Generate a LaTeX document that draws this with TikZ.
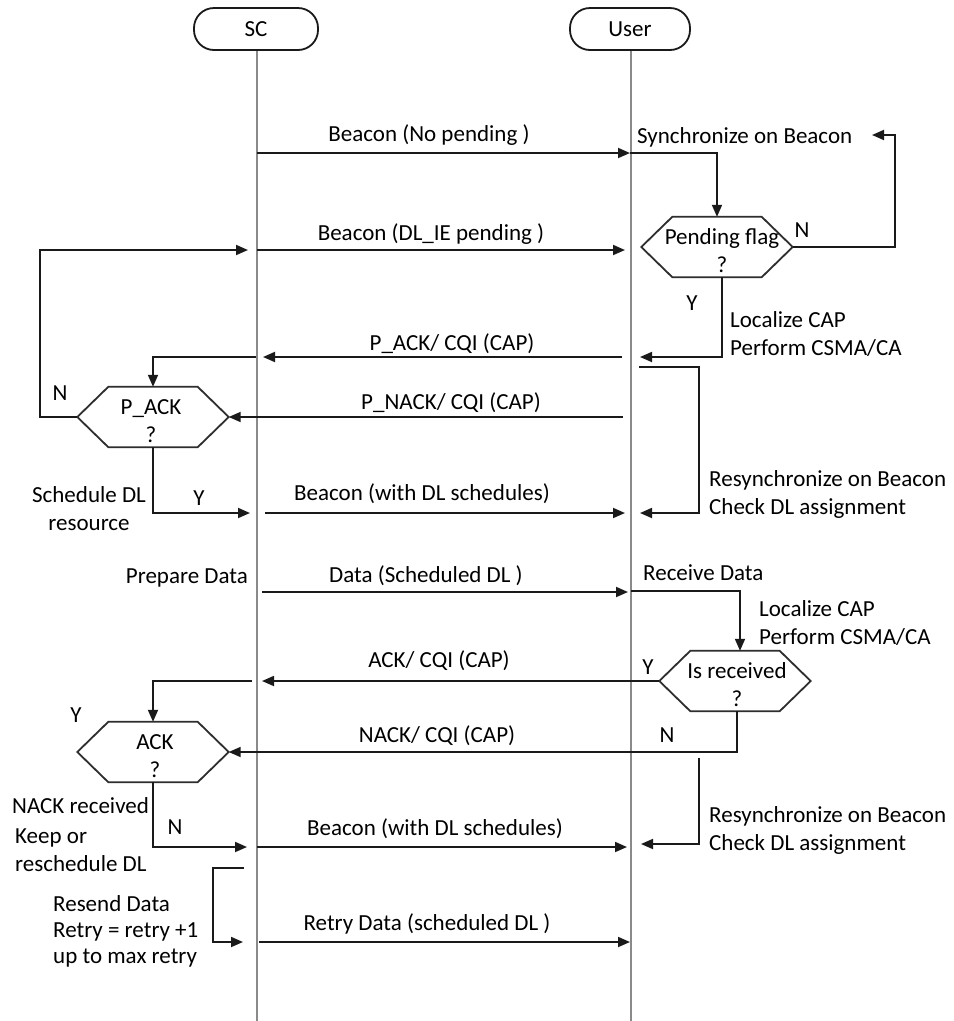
\documentclass[tikz,border=0pt]{standalone}
\usepackage{fontspec}
\setmainfont{Carlito}
\usetikzlibrary{arrows.meta,calc}
\definecolor{ink}{HTML}{1A1A1A}
\definecolor{lifec}{HTML}{8A8A8A}
\definecolor{hexc}{HTML}{2E2E2E}
\newcommand\drawhex[1]{\draw[hexline] (#1.west) -- ([xshift=31pt]#1.north west) -- ([xshift=-31pt]#1.north east) -- (#1.east) -- ([xshift=-31pt]#1.south east) -- ([xshift=31pt]#1.south west) -- cycle;}
\begin{document}
\begin{tikzpicture}[x=1pt,y=-1pt, font=\fontsize{23}{28}\selectfont,
  msg/.style={draw=ink, line width=1.8pt, -{Triangle[length=12pt,width=10pt]}},
  lifeline/.style={draw=lifec, line width=1.5pt},
  actor/.style={draw=ink, line width=1.8pt, rounded corners=20pt, minimum width=124pt, minimum height=42pt, inner sep=0pt},
  hexa/.style={minimum width=151pt, minimum height=60pt, inner sep=0pt},
  hexline/.style={draw=hexc, line width=1.8pt, line join=miter},
  hextext/.style={align=center, inner sep=0pt},
  lbl/.style={inner sep=0pt, anchor=base},
  lblw/.style={inner sep=0pt, anchor=base west},
  lble/.style={inner sep=0pt, anchor=base east}]

\useasboundingbox[fill=white] (0,0) rectangle (954,1021);

% actors and lifelines
\node[actor] (sc) at (256,29) {SC};
\node[actor, minimum width=120pt] (user) at (630,29) {User};
\coordinate (scend) at (257,1021);
\coordinate (userend) at (631,1021);
\draw[lifeline] (sc.south -| scend) -- (scend);
\draw[lifeline] (user.south -| userend) -- (userend);

% decision hexagons
\node[hexa] (pend) at (717,247) {};
\node[hexa] (pack) at (153,417) {};
\node[hexa] (isr) at (735,681) {};
\node[hexa] (ack) at (153,752) {};
\drawhex{pend}
\drawhex{pack}
\drawhex{isr}
\drawhex{ack}
\node[hextext] (pendt) at ([xshift=5pt,yshift=-4pt]pend.center) {Pending flag\\?};
\node[hextext] (packt) at ([xshift=-2pt,yshift=-4pt]pack.center) {P\_ACK\\?};
\node[hextext] (isrt) at ([xshift=2pt,yshift=-4pt]isr.center) {Is received\\?};
\node[hextext] (ackt) at ([xshift=2pt,yshift=-4pt]ack.center) {ACK\\?};

% message end points
\coordinate (m1s) at (257,153);  \coordinate (m1e) at (630,153);
\coordinate (m2s) at (257,250);  \coordinate (m2e) at (625,250);
\coordinate (m3s) at (622,357);  \coordinate (m3e) at (263,357);
\coordinate (m4s) at (623,417);
\coordinate (m5s) at (265,513);  \coordinate (m5e) at (625,513);
\coordinate (m6s) at (262,592);  \coordinate (m6e) at (628,592);
\coordinate (m7e) at (262,681);
\coordinate (m9s) at (257,847);  \coordinate (m9e) at (627,847);
\coordinate (m10s) at (259,942); \coordinate (m10e) at (630,942);

% messages
\draw[msg] (m1s) -- (m1e);
\draw[msg] (m2s) -- (m2e);
\draw[msg] (m3s) -- (m3e);
\draw[msg] (m4s) -- (pack.east);
\draw[msg] (m5s) -- (m5e);
\draw[msg] (m6s) -- (m6e);
\draw[msg] (isr.west) -- (m7e);
\draw[msg] ([xshift=2pt]isr.south) |- (ack.east);
\draw[msg] (m9s) -- (m9e);
\draw[msg] (m10s) -- (m10e);

% message labels
\node[lbl] (l1) at (429,141) {Beacon (No pending )};
\node[lbl] (l2) at (431,240) {Beacon (DL\_IE pending )};
\node[lbl] (l3) at (452,350) {P\_ACK/ CQI (CAP)};
\node[lbl] (l4) at (451,409) {P\_NACK/ CQI (CAP)};
\node[lbl] (l5) at (422,500) {Beacon (with DL schedules)};
\node[lbl] (l6) at (426,582) {Data (Scheduled DL )};
\node[lbl] (l7) at (439,667) {ACK/ CQI (CAP)};
\node[lbl] (l8) at (437,742) {NACK/ CQI (CAP)};
\node[lbl] (l9) at (435,835) {Beacon (with DL schedules)};
\node[lbl] (l10) at (427,930) {Retry Data (scheduled DL )};

% local flows, user side
\coordinate (syncc) at (895,135); \coordinate (synct) at (872,135);
\coordinate (f3e) at (640,357);
\coordinate (f4s) at (639,367); \coordinate (f4c) at (699,513); \coordinate (f4e) at (640,513);
\coordinate (f8s) at (631,591);
\coordinate (f10s) at (699,758); \coordinate (f10e) at (641,844);
\draw[msg] (m1e) -| (pend.north);
\draw[msg] (pend.east) -| (syncc) -- (synct);
\draw[msg] ([xshift=5pt]pend.south) |- (f3e);
\draw[msg] (f4s) -| (f4c) -- (f4e);
\draw[msg] (f8s) -| ([xshift=5pt]isr.north);
\draw[msg] (f10s) |- (f10e);

% local flows, SC side
\coordinate (f5s) at (256,357);
\coordinate (f6c) at (40,250); \coordinate (f6e) at (248,250);
\coordinate (f7e) at (250,513);
\coordinate (f9s) at (252,681);
\coordinate (f11e) at (247,847);
\coordinate (f12s) at (244,868); \coordinate (f12c) at (213,942); \coordinate (f12e) at (243,942);
\draw[msg] (f5s) -| (pack.north);
\draw[msg] (pack.west) -| (f6c) -- (f6e);
\draw[msg] (pack.south) |- (f7e);
\draw[msg] (f9s) -| (ack.north);
\draw[msg] (ack.south) |- (f11e);
\draw[msg] (f12s) -| (f12c) -- (f12e);

% user side texts
\node[lblw] (sync) at (637,143) {Synchronize on Beacon};
\node[lbl] (pendn) at (802,237) {N};
\node[lbl] (pendy) at (692,310) {Y};
\node[lblw] (loc1) at (730,327) {Localize CAP};
\node[lblw] (csma1) at (730,355) {Perform CSMA/CA};
\node[lblw] (resync1) at (709,486) {Resynchronize on Beacon};
\node[lblw] (check1) at (709,514) {Check DL assignment};
\node[lblw] (recv) at (643,580) {Receive Data};
\node[lblw] (loc2) at (759,616) {Localize CAP};
\node[lblw] (csma2) at (759,644) {Perform CSMA/CA};
\node[lbl] (isry) at (648,674) {Y};
\node[lbl] (isrn) at (667,742) {N};
\node[lblw] (resync2) at (709,822) {Resynchronize on Beacon};
\node[lblw] (check2) at (709,850) {Check DL assignment};

% SC side texts
\node[lbl] (packn) at (60,400) {N};
\node[lbl] (packy) at (199,505) {Y};
\node[lbl] (sched1) at (89,502) {Schedule DL};
\node[lbl] (sched2) at (89,530) {resource};
\node[lble] (prep) at (248,583) {Prepare Data};
\node[lbl] (acky) at (76,722) {Y};
\node[lbl] (ackn) at (175,834) {N};
\node[lblw] (nack1) at (12,813) {NACK received};
\node[lblw] (nack2) at (15,843) {Keep or};
\node[lblw] (nack3) at (15,871) {reschedule DL};
\node[lblw] (res1) at (53,911) {Resend Data};
\node[lblw] (res2) at (53,937) {Retry = retry +1};
\node[lblw] (res3) at (53,963) {up to max retry};
\end{tikzpicture}
\end{document}
